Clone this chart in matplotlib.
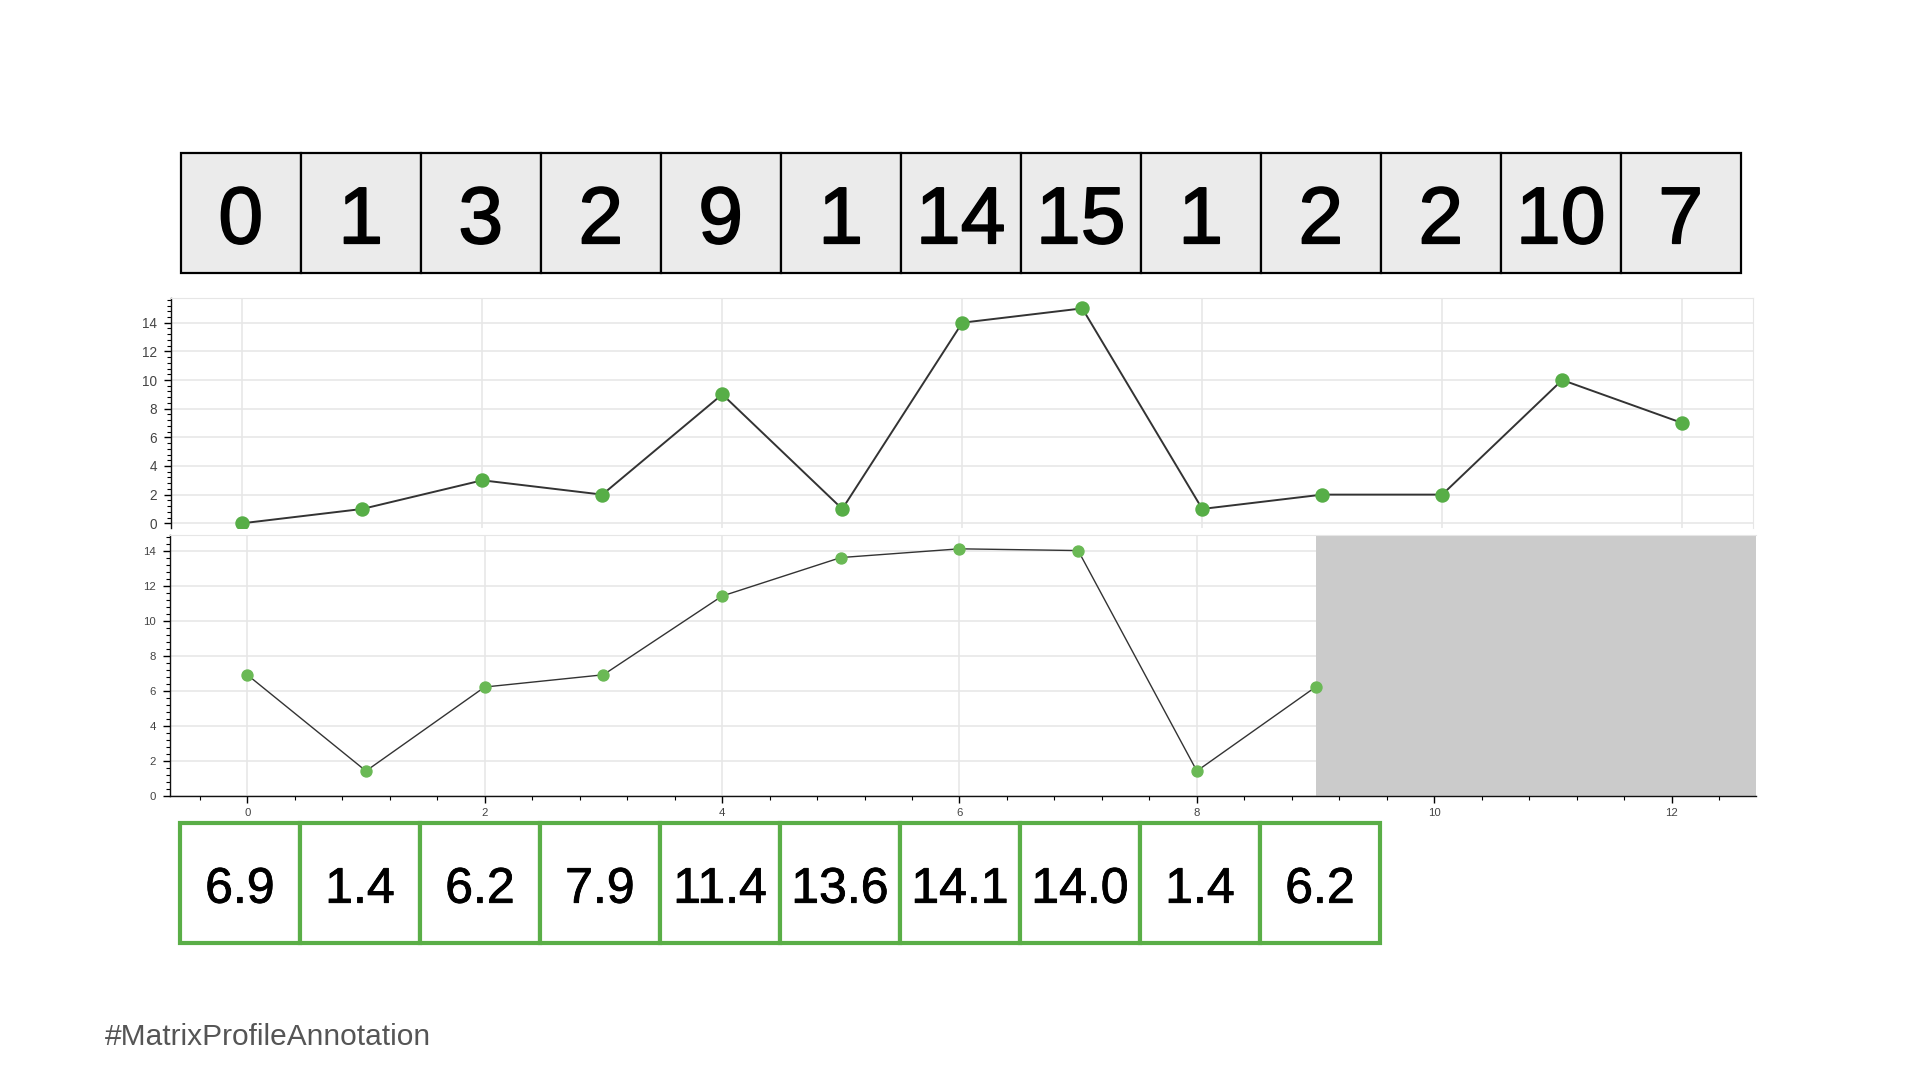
import matplotlib
matplotlib.use("Agg")
import matplotlib.pyplot as plt
import matplotlib.patheffects as pe
from matplotlib.patches import Rectangle
from matplotlib.ticker import MultipleLocator
import numpy as np

# ---- data ----
series_values = [0, 1, 3, 2, 9, 1, 14, 15, 1, 2, 2, 10, 7]
series_labels = ["0", "1", "3", "2", "9", "1", "14", "15", "1", "2", "2", "10", "7"]
profile_values = [6.9, 1.4, 6.2, 6.9, 11.4, 13.6, 14.1, 14.0, 1.4, 6.2]
profile_labels = ["6.9", "1.4", "6.2", "7.9", "11.4", "13.6", "14.1", "14.0", "1.4", "6.2"]
footer_text = "#MatrixProfileAnnotation"
masked_start = 9

W, H = 1920, 1080
plt.rcParams['font.family'] = ['Liberation Sans', 'DejaVu Sans']

fig = plt.figure(figsize=(W / 100, H / 100), dpi=100)
fig.patch.set_facecolor("white")


def add_axes_px(left, top, right, bottom):
    return fig.add_axes([left / W, 1 - bottom / H, (right - left) / W, (bottom - top) / H])


GRID = "#e6e6e6"
TICKC = "#444444"
LINEC = "#333333"


def style_y(ax, labelsize):
    ax.yaxis.set_major_locator(MultipleLocator(2))
    ax.yaxis.set_minor_locator(MultipleLocator(0.4))
    ax.tick_params(axis="y", which="major", direction="out", length=5, width=1,
                   labelsize=labelsize, labelcolor=TICKC, pad=5)
    ax.tick_params(axis="y", which="minor", direction="out", length=3, width=0.8)
    ax.grid(True, which="major", color=GRID, lw=1.1)
    ax.set_axisbelow(True)


# ---- top plot ----
ax1 = add_axes_px(170.7, 297.5, 1753, 528)
xs = np.arange(len(series_values))
ax1.plot(xs, series_values, color=LINEC, lw=1.4, zorder=3)
ax1.plot(xs, series_values, 'o', color="#57ae47", ms=9.4, mec="#57ae47", zorder=4)
ax1.set_xlim(-0.597, 12.59)
ax1.set_ylim(-0.33, 15.76)
ax1.xaxis.set_major_locator(MultipleLocator(2))
ax1.tick_params(axis="x", which="both", bottom=False, labelbottom=False)
style_y(ax1, 9.8)
ax1.spines["bottom"].set_visible(False)
ax1.spines["top"].set_color(GRID)
ax1.spines["right"].set_color(GRID)
ax1.spines["left"].set_color("#111111")
ax1.spines["left"].set_linewidth(1)

# ---- bottom plot ----
ax2 = add_axes_px(170, 535, 1755.7, 795.5)
xp = np.arange(len(profile_values))
ax2.axvspan(masked_start, 12.708, color="#cbcbcb", lw=0, zorder=2)
ax2.plot(xp, profile_values, color=LINEC, lw=1.0, zorder=3)
ax2.plot(xp, profile_values, 'o', color="#6ab955", ms=7.9, mec="#6ab955", zorder=4)
ax2.set_xlim(-0.651, 12.708)
ax2.set_ylim(0, 14.89)
ax2.xaxis.set_major_locator(MultipleLocator(2))
ax2.xaxis.set_minor_locator(MultipleLocator(0.4))
ax2.tick_params(axis="x", which="major", direction="out", length=5, width=1,
                labelsize=8.2, labelcolor=TICKC, pad=4)
ax2.tick_params(axis="x", which="minor", direction="out", length=3, width=0.8)
style_y(ax2, 8.2)
ax2.spines["right"].set_visible(False)
ax2.spines["top"].set_color(GRID)
for s in ["left", "bottom"]:
    ax2.spines[s].set_color("#111111")
    ax2.spines[s].set_linewidth(1)

# ---- overlay for boxes and text ----
ov = fig.add_axes([0, 0, 1, 1], zorder=10)
ov.set_xlim(0, W)
ov.set_ylim(H, 0)
ov.axis("off")
ov.patch.set_alpha(0)

box_w = 120
top_left, top_y0, top_y1 = 180.7, 153.3, 272.7
top_fx = [pe.withStroke(linewidth=1.2, foreground="black")]
for i, lab in enumerate(series_labels):
    x0 = top_left + i * box_w
    ov.add_patch(Rectangle((x0, top_y0), box_w, top_y1 - top_y0, facecolor="#ebebeb",
                           edgecolor="black", lw=1.6))
    ov.text(x0 + box_w / 2, 243.3, lab, ha="center", va="baseline",
            fontsize=58, color="black", path_effects=top_fx)

bot_left, bot_y0, bot_y1 = 180, 823, 943
bot_fx = [pe.withStroke(linewidth=0.6, foreground="black")]
for i, lab in enumerate(profile_labels):
    x0 = bot_left + i * box_w
    ov.add_patch(Rectangle((x0, bot_y0), box_w, bot_y1 - bot_y0, facecolor="white",
                           edgecolor="#5aae47", lw=3))
    ov.text(x0 + box_w / 2, 902.7, lab, ha="center", va="baseline",
            fontsize=36, color="black", path_effects=bot_fx)

ov.text(105, 1045, footer_text, ha="left", va="baseline", fontsize=21.5, color="#555555")

fig.savefig("out.png", dpi=100, facecolor="white")
